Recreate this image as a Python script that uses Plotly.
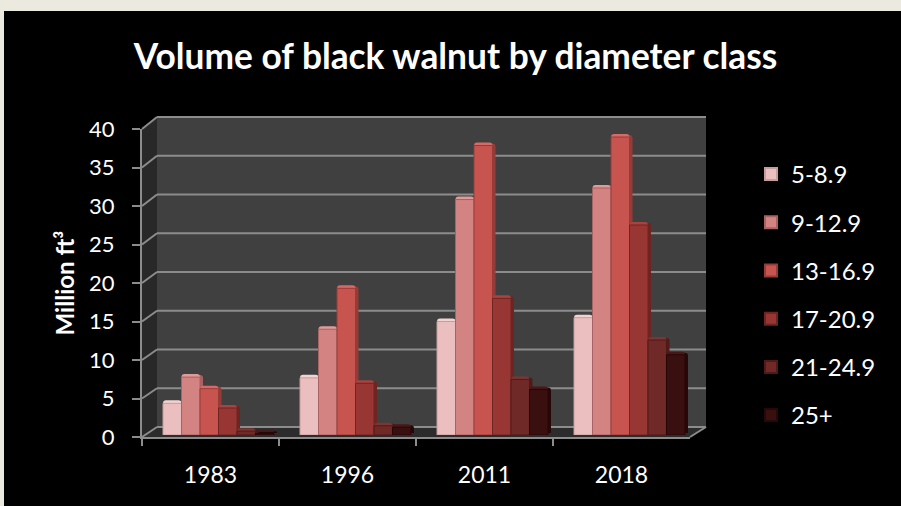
import plotly.graph_objects as go

W, H = 901, 506
years = ["1983", "1996", "2011", "2018"]
classes = ["5-8.9", "9-12.9", "13-16.9", "17-20.9", "21-24.9", "25+"]
v_5_8 = [4.1, 7.4, 14.7, 15.2]
v_9_12 = [7.5, 13.7, 30.5, 32.0]
v_13_16 = [6.0, 19.0, 37.5, 38.6]
v_17_20 = [3.5, 6.7, 17.7, 27.2]
v_21_24 = [0.5, 1.2, 7.2, 12.3]
v_25 = [0.2, 1.0, 5.9, 10.4]
values = [v_5_8, v_9_12, v_13_16, v_17_20, v_21_24, v_25]
y_ticks = [0, 5, 10, 15, 20, 25, 30, 35, 40]

front = ["#EBBFBF", "#D48383", "#C8544F", "#973633", "#6F2A28", "#3A0F0F"]
cap = ["#F3D2D2", "#E09A9A", "#D66A66", "#A84340", "#7E3431", "#4A1717"]
side = ["#C79C9C", "#A86262", "#963C38", "#6E2522", "#4E1B1A", "#260808"]
grid = "#8C8C8C"


def px(x):
    return x / W


def py(y):
    return 1 - y / H


def dom(a, b):
    return [a / W, b / W]


def ydom(bottom, top):
    return [py(bottom), py(top)]


fig = go.Figure()

# legend entries live on the visible axes
for name, col, edge in zip(classes, front, side):
    fig.add_trace(go.Scatter(
        x=[years[0]], y=[None], mode="markers", name=name, legendgroup=name,
        marker=dict(symbol="square", size=15, color=col, line=dict(color=edge, width=1)),
        xaxis="x", yaxis="y", hoverinfo="skip"))

layers = [("2", side, 3, 2), ("3", cap, 0, 3), ("4", front, 0, 0)]
for sfx, cols, dx, dy in layers:
    for name, vals, col, edge in zip(classes, values, cols, side):
        fig.add_trace(go.Bar(
            x=years, y=vals, name=name, showlegend=False, legendgroup=name,
            marker=dict(color=col, cornerradius=3 if sfx != "4" else 0,
                        line=dict(width=1 if sfx == "4" else 0, color=edge)),
            xaxis="x" + sfx, yaxis="y" + sfx, hoverinfo="skip"))

layout = dict(
    width=W, height=H, autosize=False,
    margin=dict(l=0, r=0, t=0, b=0, autoexpand=False),
    paper_bgcolor="#ECE9DF", plot_bgcolor="rgba(0,0,0,0)",
    font=dict(family="Lato, Carlito, sans-serif", color="white", size=23),
    barmode="group", bargap=0.19, bargroupgap=0,
    showlegend=True,
    title=dict(text="<b>Volume of black walnut by diameter class</b>",
               x=455.5 / W, xanchor="center", y=py(57), yanchor="middle",
               font=dict(size=35.3, color="white", family="Lato, Carlito, sans-serif")),
    legend=dict(x=px(751), y=py(152), xanchor="left", yanchor="top",
                bgcolor="rgba(0,0,0,0)", tracegroupgap=14, itemsizing="constant",
                font=dict(size=24, color="white")),
    xaxis=dict(domain=dom(142, 690), type="category", categoryorder="array", categoryarray=years,
               range=[-0.5, 3.5], tickson="boundaries", ticks="outside", ticklen=7, tickwidth=2,
               tickcolor=grid, showline=True, linecolor=grid, linewidth=2, showgrid=False,
               zeroline=False, anchor="y", ticklabelstandoff=16, tickfont=dict(size=23, color="white")),
    yaxis=dict(domain=ydom(437, 129), range=[0, 40], tickvals=y_ticks, ticks="outside", ticklen=8,
               tickwidth=2, tickcolor=grid, showline=True, linecolor=grid, linewidth=2,
               showgrid=False, zeroline=False, anchor="x", ticklabelstandoff=13,
               tickfont=dict(size=22, color="white"),
               title=dict(text="<b>Million ft³</b>", font=dict(size=24, color="white"), standoff=8)),
)
for sfx, cols, dx, dy in layers:
    layout["xaxis" + sfx] = dict(domain=dom(150 + dx, 698 + dx), type="category", categoryorder="array",
                                 categoryarray=years, range=[-0.5, 3.5], visible=False, anchor="y" + sfx)
    layout["yaxis" + sfx] = dict(domain=ydom(435 - dy, 126.2 - dy), range=[0, 40], visible=False,
                                 anchor="x" + sfx)

shapes = [
    dict(type="rect", xref="paper", yref="paper", x0=px(4), x1=1, y0=0, y1=py(11),
         fillcolor="black", line=dict(width=0), layer="below"),
    dict(type="rect", xref="paper", yref="paper", x0=px(157), x1=px(706), y0=py(427), y1=py(117),
         fillcolor="#404040", line=dict(width=0), layer="below"),
    dict(type="path", xref="paper", yref="paper",
         path=f"M {px(142)} {py(129)} L {px(157)} {py(117)} L {px(157)} {py(427)} L {px(142)} {py(437)} Z",
         fillcolor="#282828", line=dict(width=0), layer="below"),
    dict(type="path", xref="paper", yref="paper",
         path=f"M {px(142)} {py(437)} L {px(157)} {py(427)} L {px(706)} {py(427)} L {px(690)} {py(437)} Z",
         fillcolor="#2C2C2C", line=dict(width=0), layer="below"),
]
step = (427 - 117) / 40
fstep = (437 - 129) / 40
for t in y_ticks:
    yb = 427 - t * step
    yf = 437 - t * fstep
    shapes.append(dict(type="line", xref="paper", yref="paper", x0=px(157), x1=px(706), y0=py(yb), y1=py(yb),
                       line=dict(color=grid, width=2), layer="below"))
    shapes.append(dict(type="line", xref="paper", yref="paper", x0=px(142), x1=px(157), y0=py(yf), y1=py(yb),
                       line=dict(color=grid, width=2), layer="below"))
shapes.append(dict(type="line", xref="paper", yref="paper", x0=px(690), x1=px(706), y0=py(437), y1=py(427),
                   line=dict(color=grid, width=2), layer="below"))
layout["shapes"] = shapes
fig.update_layout(**layout)

fig.write_html("out.html", config={"displayModeBar": False},
               post_script="document.body.style.margin='0';document.body.style.background='#000';document.body.style.overflow='hidden';")
